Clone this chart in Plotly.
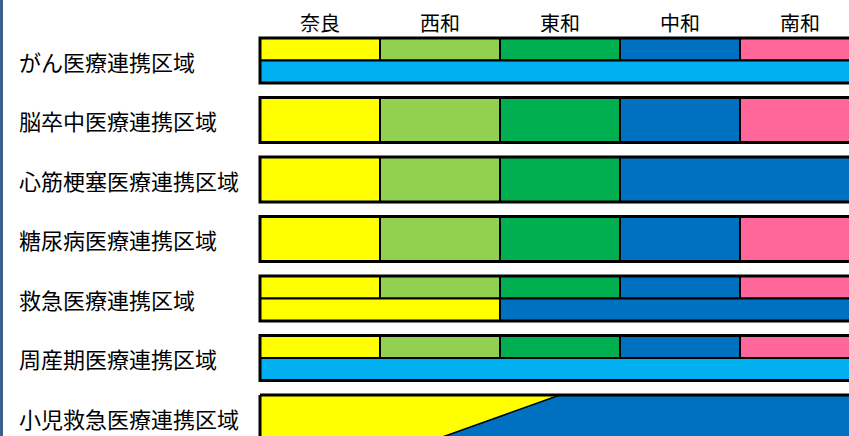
import plotly.graph_objects as go

# ---- data ----
REGIONS = ["奈良", "西和", "東和", "中和", "南和"]
ROW_LABELS = ["がん医療連携区域", "脳卒中医療連携区域", "心筋梗塞医療連携区域",
              "糖尿病医療連携区域", "救急医療連携区域", "周産期医療連携区域",
              "小児救急医療連携区域"]
FIVE = [("奈良", 1), ("西和", 1), ("東和", 1), ("中和", 1), ("南和", 1)]
# each row: list of horizontal bands; each band: list of (group, number of regions)
ROW_BANDS = [
    [FIVE, [("全県", 5)]],
    [FIVE],
    [[("奈良", 1), ("西和", 1), ("東和", 1), ("中南和", 2)]],
    [FIVE],
    [FIVE, [("北和", 2), ("中南和", 3)]],
    [FIVE, [("全県", 5)]],
    None,  # diagonal split (小児救急)
]
# 小児救急: boundary between 北和 and 中南和 (in region units) at top / bottom of row
PED_SPLIT_TOP = 2.5
PED_SPLIT_BOTTOM = 1.45

GROUP_COLORS = {"奈良": "#FFFF00", "西和": "#92D050", "東和": "#00B050",
                "中和": "#0070C0", "南和": "#FF6699", "全県": "#00B0F0",
                "北和": "#FFFF00", "中南和": "#0070C0"}

# ---- layout constants ----
W, H = 849, 436
X0_PX, COL_PX = 260, 120
Y0_PX, PITCH_PX, ROW_PX = 38, 59.5, 45
ROW_H = ROW_PX / PITCH_PX
FONT = "Noto Sans CJK JP"

fig = go.Figure()
shapes = []
annotations = []

n = len(REGIONS)
for i, bands in enumerate(ROW_BANDS):
    top = i
    bot = i + ROW_H
    if bands is not None:
        bh = ROW_H / len(bands)
        for b, band in enumerate(bands):
            x = 0
            for grp, span in band:
                shapes.append(dict(type="rect", xref="x", yref="y",
                                   x0=x, x1=x + span, y0=top + b * bh, y1=top + (b + 1) * bh,
                                   fillcolor=GROUP_COLORS[grp],
                                   line=dict(color="black", width=2), layer="above"))
                x += span
        shapes.append(dict(type="rect", xref="x", yref="y", x0=0, x1=n, y0=top, y1=bot,
                           fillcolor="rgba(0,0,0,0)", line=dict(color="black", width=3),
                           layer="above"))
    else:
        shapes.append(dict(type="rect", xref="x", yref="y", x0=0, x1=n, y0=top, y1=bot,
                           fillcolor=GROUP_COLORS["中南和"], line=dict(width=0), layer="above"))
        path = (f"M 0 {top} L {PED_SPLIT_TOP} {top} L {PED_SPLIT_BOTTOM} {bot} "
                f"L 0 {bot} Z")
        shapes.append(dict(type="path", xref="x", yref="y", path=path,
                           fillcolor=GROUP_COLORS["北和"], line=dict(width=0), layer="above"))
        shapes.append(dict(type="line", xref="x", yref="y", x0=PED_SPLIT_TOP, y0=top,
                           x1=PED_SPLIT_BOTTOM, y1=bot,
                           line=dict(color="black", width=1.5), layer="above"))
        shapes.append(dict(type="line", xref="x", yref="y", x0=0, y0=top, x1=n, y1=top,
                           line=dict(color="black", width=3), layer="above"))
        shapes.append(dict(type="line", xref="x", yref="y", x0=0, y0=top, x1=0, y1=bot,
                           line=dict(color="black", width=3), layer="above"))
    annotations.append(dict(x=-243 / COL_PX, y=i + ROW_H / 2, xref="x", yref="y",
                            text=ROW_LABELS[i], showarrow=False, xanchor="left",
                            yanchor="middle",
                            font=dict(size=22, color="black", family=FONT)))

for j, r in enumerate(REGIONS):
    annotations.append(dict(x=j + 0.5, y=(22 - Y0_PX) / PITCH_PX, xref="x", yref="y",
                            text=r, showarrow=False, xanchor="center", yanchor="middle",
                            font=dict(size=20, color="black", family=FONT)))

# left edge strip
shapes.append(dict(type="rect", xref="paper", yref="paper", x0=0, x1=3 / W, y0=0, y1=1,
                   fillcolor="#3B5F8F", line=dict(width=0), layer="above"))

fig.add_trace(go.Scatter(x=[0], y=[0], mode="markers", marker=dict(opacity=0),
                         hoverinfo="skip", showlegend=False))

fig.update_layout(
    width=W, height=H,
    margin=dict(l=0, r=0, t=0, b=0),
    paper_bgcolor="white", plot_bgcolor="white",
    shapes=shapes, annotations=annotations,
    xaxis=dict(range=[-X0_PX / COL_PX, (W - X0_PX) / COL_PX], visible=False,
               fixedrange=True),
    yaxis=dict(range=[(H - Y0_PX) / PITCH_PX, -Y0_PX / PITCH_PX], visible=False,
               fixedrange=True),
    showlegend=False,
)

fig.write_html("out.html", config={"displayModeBar": False},
               post_script="document.body.style.margin='0';"
                           "document.body.style.overflow='hidden';")
